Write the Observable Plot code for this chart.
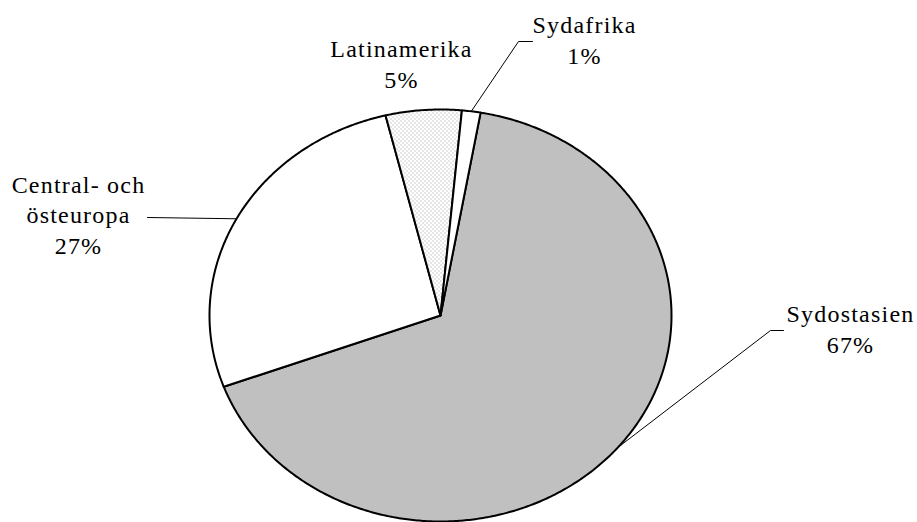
<!DOCTYPE html>
<html>
<head>
<meta charset="utf-8">
<script src="https://cdn.jsdelivr.net/npm/d3@7"></script>
<script src="https://cdn.jsdelivr.net/npm/@observablehq/plot@0.6"></script>
<style>
  html, body { margin: 0; padding: 0; background: #fff; overflow: hidden; }
  #chart svg { display: block; }
  #chart svg text { letter-spacing: 1.2px; }
</style>
</head>
<body>
<svg width="0" height="0" style="position:absolute">
  <defs>
    <pattern id="dots" width="4" height="4" patternUnits="userSpaceOnUse">
      <rect width="4" height="4" fill="#ffffff"></rect>
      <rect x="0" y="0" width="1" height="1" fill="#9a9a9a"></rect>
      <rect x="2" y="2" width="1" height="1" fill="#9a9a9a"></rect>
    </pattern>
  </defs>
</svg>
<div id="chart"></div>
<script>
// ---- data ----
const regions = ["Sydostasien", "Central- och\nösteuropa", "Latinamerika", "Sydafrika"];
const shares = [66.6, 26.8, 5.3, 1.3];
const pctLabels = ["67%", "27%", "5%", "1%"];
const fills = ["#c0c0c0", "#ffffff", "url(#dots)", "#ffffff"];

// ---- layout (pixel space of the 917x522 frame) ----
const W = 917, H = 522;
const pieGeom = {cx: 440, cy: 315, rx: 231, ry: 206, startDeg: 10};
const labelAnchors = [[850, 352], [78, 253], [401, 87], [584, 63]];
const leaderBends = [[[770, 330], [783, 330]], [[147, 217]], null, [[518, 41], [532, 41]]];

const rad = d => d * Math.PI / 180;
const rows = regions.map((name, i) => ({name, share: shares[i], pct: pctLabels[i], fill: fills[i], i}));
const arcs = d3.pie().sort(null).value(d => d.share)
  .startAngle(rad(pieGeom.startDeg)).endAngle(rad(pieGeom.startDeg + 360))(rows);

const onEdge = a => ({x: pieGeom.cx + pieGeom.rx * Math.sin(a), y: pieGeom.cy - pieGeom.ry * Math.cos(a)});

const slicePolys = arcs.map(a => {
  const span = (a.endAngle - a.startAngle) * 180 / Math.PI;
  const n = Math.max(2, Math.ceil(span / 0.5));
  const pts = [{x: pieGeom.cx, y: pieGeom.cy}];
  for (let k = 0; k <= n; k++) pts.push(onEdge(a.startAngle + (a.endAngle - a.startAngle) * k / n));
  pts.push({x: pieGeom.cx, y: pieGeom.cy});
  return {row: a.data, pts};
});

const leaders = [];
arcs.forEach((a, i) => {
  const bends = leaderBends[a.data.i];
  if (!bends) return;
  const mid = (a.startAngle + a.endAngle) / 2;
  const p0 = onEdge(mid);
  leaders.push({id: i, x: p0.x, y: p0.y});
  bends.forEach(([x, y]) => leaders.push({id: i, x, y}));
});

const labels = rows.map(r => ({
  x: labelAnchors[r.i][0], y: labelAnchors[r.i][1],
  text: r.name + "\n" + r.pct
}));

const marks = slicePolys.map(s => Plot.line(s.pts, {
  x: "x", y: "y", fill: s.row.fill, stroke: "#000", strokeWidth: 2,
  strokeLinejoin: "round", curve: "linear"
}));
marks.push(Plot.line(leaders, {x: "x", y: "y", z: "id", stroke: "#000", strokeWidth: 1}));
marks.push(Plot.text(labels, {
  x: "x", y: "y", text: "text", textAnchor: "middle", lineAnchor: "bottom",
  lineHeight: 1.27, fontSize: 24, fontFamily: "Liberation Serif", fill: "#000"
}));

const chart = Plot.plot({
  width: W, height: H,
  margin: 0,
  x: {domain: [0, W], range: [0, W], axis: null},
  y: {domain: [0, H], range: [0, H], axis: null},
  style: {background: "#fff", color: "#000"},
  marks
});
document.getElementById("chart").appendChild(chart);
</script>
</body>
</html>
